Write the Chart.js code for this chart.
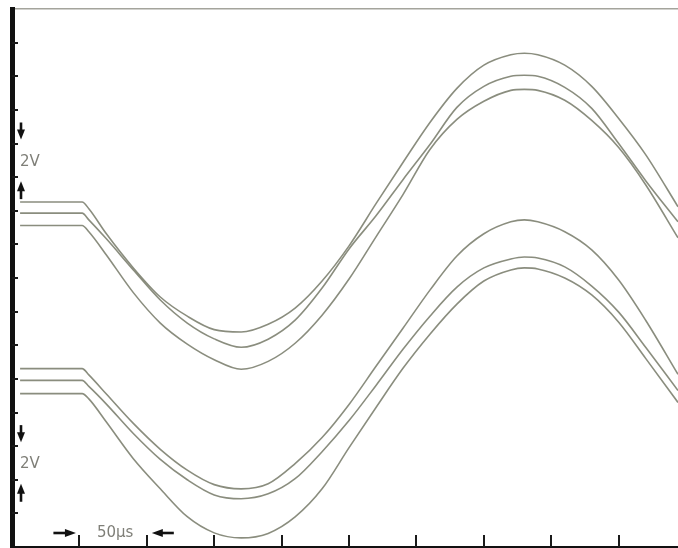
<!DOCTYPE html>
<html>
<head>
<meta charset="utf-8">
<script src="https://cdn.jsdelivr.net/npm/chart.js@4.4.1/dist/chart.umd.min.js"></script>
<style>
html,body{margin:0;padding:0;background:#ffffff;}
#wrap{width:678px;height:548px;position:relative;}
</style>
</head>
<body>
<div id="wrap"><canvas id="scope" width="678" height="548"></canvas></div>
<script>
// time base (µs) shared by all traces
const timeUs = [6, 52, 57, 70, 90, 110, 130, 150, 170, 190, 210, 230, 250, 270, 290, 310, 330, 350, 370, 380, 390, 410, 430, 450, 470, 494];

// upper group of traces (V)
const topTraceA = [20.52, 20.52, 20.12, 18.63, 16.60, 14.87, 13.73, 12.93, 12.79, 13.25, 14.21, 15.82, 17.91, 20.42, 22.87, 25.25, 27.28, 28.66, 29.28, 29.37, 29.28, 28.66, 27.40, 25.49, 23.34, 20.24];
const topTraceB = [19.86, 19.86, 19.46, 18.33, 16.48, 14.69, 13.32, 12.38, 11.88, 12.36, 13.49, 15.40, 17.73, 19.70, 21.85, 23.94, 26.15, 27.40, 28.00, 28.06, 28.00, 27.34, 26.09, 24.00, 21.79, 19.34];
const topTraceC = [19.12, 19.12, 18.75, 17.37, 15.13, 13.32, 12.07, 11.14, 10.57, 11.04, 12.12, 13.79, 15.94, 18.45, 20.96, 23.64, 25.43, 26.51, 27.16, 27.22, 27.16, 26.57, 25.37, 23.76, 21.55, 18.39];

// lower group of traces (V)
const bottomTraceA = [10.61, 10.61, 10.24, 9.10, 7.35, 5.81, 4.57, 3.71, 3.46, 3.76, 4.96, 6.51, 8.48, 10.75, 13.01, 15.28, 17.31, 18.63, 19.34, 19.46, 19.34, 18.75, 17.67, 15.88, 13.49, 10.27];
const bottomTraceB = [9.91, 9.91, 9.55, 8.50, 6.75, 5.21, 4.00, 3.10, 2.87, 3.16, 4.06, 5.67, 7.52, 9.61, 11.76, 13.73, 15.46, 16.60, 17.13, 17.25, 17.19, 16.66, 15.52, 13.97, 11.88, 9.31];
const bottomTraceC = [9.12, 9.12, 8.81, 7.43, 5.25, 3.46, 1.80, 0.84, 0.54, 0.81, 1.79, 3.46, 5.91, 8.30, 10.63, 12.66, 14.45, 15.82, 16.48, 16.60, 16.54, 16.00, 14.99, 13.37, 11.22, 8.60];

// graticule tick values
const xTicksUs = [50, 100, 150, 200, 250, 300, 350, 400, 450];
const yTicksV = [2, 4, 6, 8, 10, 12, 14, 16, 18, 20, 22, 24, 26, 28, 30];

// scale annotations
const voltLabel = '2V';
const voltMarksV = [[22, 24], [4, 6]];
const timeLabel = '50µs';
const timeMarkUs = [50, 100];

const allTraces = [topTraceA, topTraceB, topTraceC, bottomTraceA, bottomTraceB, bottomTraceC];

function toPoints(values) {
  return timeUs.map((t, i) => ({ x: t, y: values[i] }));
}

function arrow(ctx, x1, y1, x2, y2, headLen) {
  const ang = Math.atan2(y2 - y1, x2 - x1);
  const headHalf = 4;
  const bx = x2 - Math.cos(ang) * headLen, by = y2 - Math.sin(ang) * headLen;
  ctx.save();
  ctx.strokeStyle = '#111';
  ctx.fillStyle = '#111';
  ctx.lineWidth = 2.6;
  ctx.beginPath();
  ctx.moveTo(x1, y1);
  ctx.lineTo(bx + Math.cos(ang), by + Math.sin(ang));
  ctx.stroke();
  ctx.beginPath();
  ctx.moveTo(x2, y2);
  ctx.lineTo(bx + Math.sin(ang) * headHalf, by - Math.cos(ang) * headHalf);
  ctx.lineTo(bx - Math.sin(ang) * headHalf, by + Math.cos(ang) * headHalf);
  ctx.closePath();
  ctx.fill();
  ctx.restore();
}

const scopeMarks = {
  id: 'scopeMarks',
  afterDatasetsDraw(chart) {
    const ctx = chart.ctx;
    const xs = chart.scales.x, ys = chart.scales.y;
    ctx.save();
    ctx.strokeStyle = '#1a1a1a';
    ctx.lineWidth = 2;
    yTicksV.forEach(v => {
      const py = Math.round(ys.getPixelForValue(v));
      ctx.beginPath();
      ctx.moveTo(xs.left, py);
      ctx.lineTo(xs.left + 6, py);
      ctx.stroke();
    });
    xTicksUs.forEach(t => {
      const px = Math.round(xs.getPixelForValue(t));
      ctx.beginPath();
      ctx.moveTo(px, ys.bottom);
      ctx.lineTo(px, ys.bottom - 12);
      ctx.stroke();
    });
    const ax = xs.left + 9;
    voltMarksV.forEach(([lo, hi]) => {
      const pHi = ys.getPixelForValue(hi);
      const pLo = ys.getPixelForValue(lo);
      arrow(ctx, ax, pHi - 21, ax, pHi - 4, 10);
      arrow(ctx, ax, pLo + 22, ax, pLo + 4, 10);
      ctx.fillStyle = '#7f7f78';
      ctx.font = '15px "DejaVu Sans"';
      ctx.textAlign = 'left';
      ctx.textBaseline = 'middle';
      ctx.fillText(voltLabel, xs.left + 8, (pHi + pLo) / 2 + 1.5);
    });
    const t0 = xs.getPixelForValue(timeMarkUs[0]);
    const t1 = xs.getPixelForValue(timeMarkUs[1]);
    const ay = ys.bottom - 14;
    arrow(ctx, t0 - 26, ay, t0 - 3.5, ay, 11);
    arrow(ctx, t1 + 27, ay, t1 + 5, ay, 11);
    ctx.fillStyle = '#7f7f78';
    ctx.font = '15px "DejaVu Sans"';
    ctx.textAlign = 'center';
    ctx.textBaseline = 'alphabetic';
    ctx.fillText(timeLabel, (t0 + t1) / 2 + 2, ys.bottom - 10);
    ctx.restore();
  }
};

new Chart(document.getElementById('scope'), {
  type: 'line',
  data: {
    datasets: allTraces.map(tr => ({
      data: toPoints(tr),
      borderColor: 'rgba(112,116,98,0.82)',
      borderWidth: 1.6,
      pointRadius: 0,
      fill: false,
      cubicInterpolationMode: 'monotone'
    }))
  },
  options: {
    responsive: false,
    devicePixelRatio: 1,
    animation: false,
    layout: { padding: { left: 12, top: 9, right: 0, bottom: 1 } },
    plugins: { legend: { display: false }, tooltip: { enabled: false } },
    scales: {
      x: {
        type: 'linear', min: 0, max: 494,
        ticks: { display: false },
        grid: { display: false, drawTicks: false },
        border: { display: true, color: '#111', width: 3 }
      },
      x2: {
        type: 'linear', position: 'top', min: 0, max: 494,
        ticks: { display: false },
        grid: { display: false, drawTicks: false },
        border: { display: true, color: '#a4a49c', width: 1.5 }
      },
      y: {
        type: 'linear', min: 0, max: 32,
        ticks: { display: false },
        grid: { display: false, drawTicks: false },
        border: { display: true, color: '#111', width: 5 }
      }
    }
  },
  plugins: [scopeMarks]
});
</script>
</body>
</html>
